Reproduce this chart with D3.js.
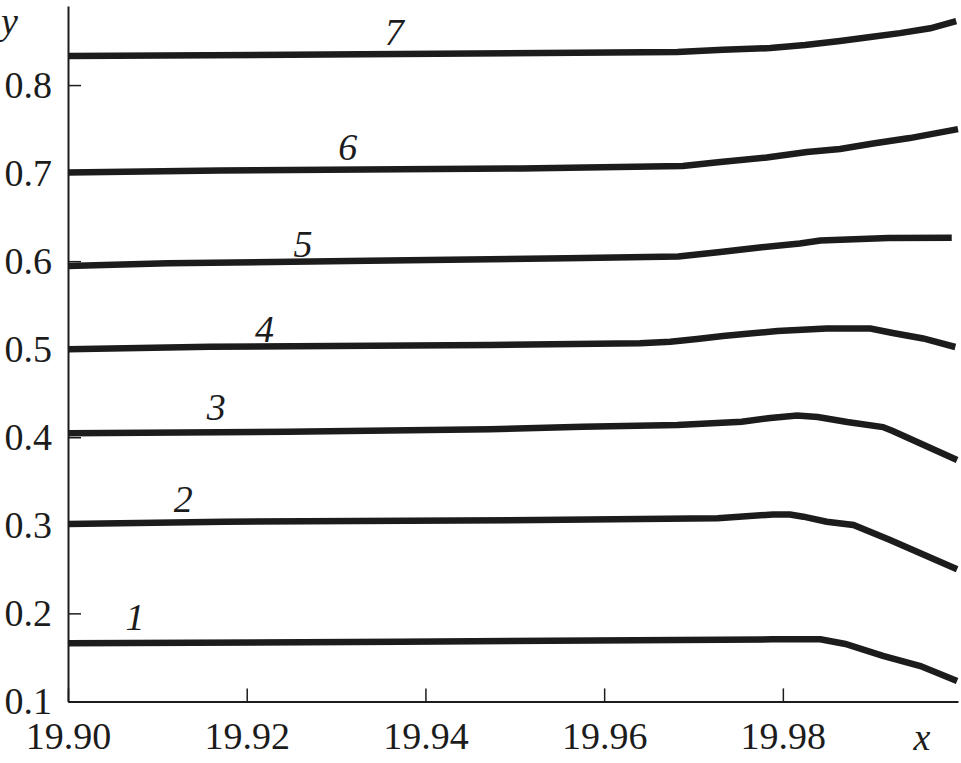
<!DOCTYPE html>
<html>
<head>
<meta charset="utf-8">
<script src="https://cdn.jsdelivr.net/npm/d3@7"></script>
<style>
  body { margin: 0; background: #fff; }
  svg { display: block; }
</style>
</head>
<body>
<svg width="961" height="763"></svg>
<script>
// x ticks and y ticks
var xTicks = [19.90, 19.92, 19.94, 19.96, 19.98];
var yTicks = [0.1, 0.2, 0.3, 0.4, 0.5, 0.6, 0.7, 0.8];

// curve numbers
var curveNames = ["1", "2", "3", "4", "5", "6", "7"];

// values, [x, y] for each curve
var curve1 = [[19.9000, 0.1660], [19.9372, 0.1678], [19.9788, 0.1705], [19.9842, 0.1705], [19.9870, 0.1652], [19.9912, 0.1516], [19.9954, 0.1402], [19.9995, 0.1232]];
var curve2 = [[19.9000, 0.3015], [19.9175, 0.3041], [19.9525, 0.3060], [19.9727, 0.3080], [19.9789, 0.3123], [19.9808, 0.3123], [19.9823, 0.3098], [19.9849, 0.3041], [19.9879, 0.3003], [19.9920, 0.2833], [19.9995, 0.2500]];
var curve3 = [[19.9000, 0.4045], [19.9246, 0.4063], [19.9472, 0.4090], [19.9576, 0.4120], [19.9682, 0.4139], [19.9754, 0.4177], [19.9786, 0.4219], [19.9816, 0.4247], [19.9839, 0.4230], [19.9872, 0.4173], [19.9912, 0.4116], [19.9923, 0.4071], [19.9995, 0.3741]];
var curve4 = [[19.9000, 0.5000], [19.9159, 0.5028], [19.9472, 0.5048], [19.9640, 0.5067], [19.9674, 0.5085], [19.9704, 0.5116], [19.9733, 0.5150], [19.9763, 0.5178], [19.9794, 0.5207], [19.9849, 0.5235], [19.9898, 0.5235], [19.9923, 0.5184], [19.9957, 0.5122], [19.9993, 0.5025]];
var curve5 = [[19.9000, 0.5945], [19.9112, 0.5976], [19.9336, 0.6005], [19.9558, 0.6032], [19.9683, 0.6053], [19.9730, 0.6104], [19.9774, 0.6155], [19.9819, 0.6200], [19.9842, 0.6234], [19.9918, 0.6263], [19.9989, 0.6266]];
var curve6 = [[19.9000, 0.7007], [19.9170, 0.7030], [19.9507, 0.7052], [19.9688, 0.7080], [19.9730, 0.7126], [19.9782, 0.7177], [19.9827, 0.7240], [19.9864, 0.7273], [19.9901, 0.7336], [19.9942, 0.7398], [19.9996, 0.7500]];
var curve7 = [[19.9000, 0.8330], [19.9329, 0.8350], [19.9682, 0.8375], [19.9733, 0.8400], [19.9786, 0.8420], [19.9825, 0.8455], [19.9864, 0.8500], [19.9898, 0.8545], [19.9931, 0.8590], [19.9965, 0.8645], [19.9994, 0.8725]];

// where the curve numbers sit (data units)
var labelX = [19.9075, 19.9129, 19.9166, 19.9220, 19.9263, 19.9313, 19.9365];
var labelY = [0.1811, 0.3151, 0.4196, 0.5082, 0.6047, 0.7149, 0.8455];

var curves = [curve1, curve2, curve3, curve4, curve5, curve6, curve7];

var svg = d3.select("svg");
var ink = "#1c1c1c";
var serif = "'Liberation Serif', 'Times New Roman', serif";

var x = d3.scaleLinear()
    .domain([19.90, 19.9996])
    .range([68, 958]);

var y = d3.scaleLinear()
    .domain([0.1, 0.8898])
    .range([701.4, 6]);

var line = d3.line()
    .x(function(d) { return x(d[0]); })
    .y(function(d) { return y(d[1]); });

// axes, ticks pointing inward
var gx = svg.append("g")
    .attr("transform", "translate(0," + y(0.1) + ")")
    .call(d3.axisBottom(x)
      .tickValues(xTicks)
      .tickFormat(d3.format(".2f"))
      .tickSizeInner(-13)
      .tickSizeOuter(0)
      .tickPadding(21));

var gy = svg.append("g")
    .attr("transform", "translate(" + x(19.90) + ",0)")
    .call(d3.axisLeft(y)
      .tickValues(yTicks)
      .tickFormat(d3.format(".1f"))
      .tickSizeInner(-13)
      .tickSizeOuter(0)
      .tickPadding(16));

[gx, gy].forEach(function(g) {
  g.select(".domain").attr("stroke", ink).attr("stroke-width", 2);
  g.selectAll(".tick line").attr("stroke", ink).attr("stroke-width", 1.5);
  g.selectAll(".tick text")
      .attr("fill", ink)
      .style("font-family", serif)
      .style("font-size", "38px");
});

// curves
svg.append("g").selectAll("path")
    .data(curves)
  .enter().append("path")
    .attr("fill", "none")
    .attr("stroke", ink)
    .attr("stroke-width", 6.5)
    .attr("stroke-linejoin", "miter")
    .attr("d", line);

// curve numbers
svg.append("g").selectAll("text")
    .data(curveNames)
  .enter().append("text")
    .attr("x", function(d, i) { return x(labelX[i]); })
    .attr("y", function(d, i) { return y(labelY[i]); })
    .attr("text-anchor", "middle")
    .attr("fill", ink)
    .style("font-family", serif)
    .style("font-style", "italic")
    .style("font-size", "38px")
    .text(function(d) { return d; });

// axis titles
svg.append("text")
    .attr("x", 1)
    .attr("y", 34)
    .attr("fill", ink)
    .style("font-family", serif)
    .style("font-style", "italic")
    .style("font-size", "38px")
    .text("y");

svg.append("text")
    .attr("x", 922)
    .attr("y", 750)
    .attr("text-anchor", "middle")
    .attr("fill", ink)
    .style("font-family", serif)
    .style("font-style", "italic")
    .style("font-size", "38px")
    .text("x");
</script>
</body>
</html>
